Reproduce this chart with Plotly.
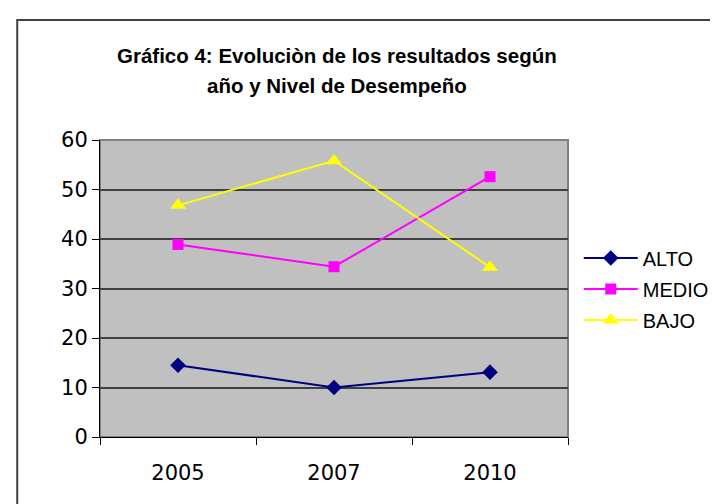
import plotly.graph_objects as go

years = ["2005", "2007", "2010"]
alto = [14.5, 10.0, 13.1]
medio = [38.9, 34.4, 52.6]
bajo = [46.8, 55.8, 34.3]
y_ticks = [0, 10, 20, 30, 40, 50, 60]
title_line1 = "Gráfico 4: Evoluciòn de los resultados según"
title_line2 = "año y Nivel de Desempeño"

W, H = 718, 504
L, R, T, B = 92, 151, 132, 75

fig = go.Figure()
fig.add_trace(go.Scatter(x=years, y=alto, name="ALTO", mode="lines+markers", legendgroup="a",
                         line=dict(color="#000080", width=2),
                         marker=dict(symbol="diamond", size=12, color="#000080")))
fig.add_trace(go.Scatter(x=years, y=medio, name="MEDIO", mode="lines+markers", legendgroup="m",
                         line=dict(color="#FF00FF", width=2),
                         marker=dict(symbol="square", size=11, color="#FF00FF")))
fig.add_trace(go.Scatter(x=years, y=bajo, name="BAJO", mode="lines+markers", legendgroup="b",
                         line=dict(color="#FFFF00", width=2),
                         marker=dict(symbol="triangle-up", size=14, color="#FFFF00")))

pw = W - L - R
ph = H - T - B
tfont = dict(family="Liberation Sans, Arial", size=20.5, color="#000000")
fig.add_annotation(text=f"<b>{title_line1}</b>", xref="paper", yref="paper",
                   x=(333 - L) / pw, y=(H - B - 47) / ph, showarrow=False,
                   xanchor="center", yanchor="middle", font=tfont)
fig.add_annotation(text=f"<b>{title_line2}</b>", xref="paper", yref="paper",
                   x=(333 - L) / pw, y=(H - B - 77) / ph, showarrow=False,
                   xanchor="center", yanchor="middle", font=tfont)

# outer chart border (left/top visible, rest cropped)
fig.add_shape(type="rect", xref="paper", yref="paper",
              x0=(8 - L) / pw, x1=(740 - L) / pw,
              y0=(H - B - 530) / ph, y1=(H - B - 12) / ph,
              line=dict(color="#404040", width=2), fillcolor="rgba(0,0,0,0)", layer="below")

fig.update_layout(
    width=W, height=H,
    margin=dict(l=L, r=R, t=T, b=B),
    paper_bgcolor="#FFFFFF",
    plot_bgcolor="#C0C0C0",
    font=dict(family="DejaVu Sans", size=21, color="#000000"),
    showlegend=True,
    legend=dict(x=1.023, y=(H - B - 281) / ph, xanchor="left", yanchor="middle",
                font=dict(family="Liberation Sans, Arial", size=20, color="#000000"),
                bgcolor="rgba(0,0,0,0)", tracegroupgap=2, itemwidth=54),
)
fig.update_xaxes(type="category", categoryorder="array", categoryarray=years,
                 range=[-0.5, 2.5],
                 showgrid=False, showline=True, linecolor="#000000", linewidth=1,
                 ticks="outside", tickson="boundaries", ticklen=7, tickcolor="#000000",
                 ticklabelstandoff=17, mirror=False, zeroline=False,
                 tickfont=dict(family="DejaVu Sans", size=21))
fig.update_yaxes(range=[0, 60], tickvals=y_ticks, showgrid=True, gridcolor="#404040",
                 gridwidth=1.5, showline=True, linecolor="#000000", linewidth=1,
                 ticks="outside", ticklen=7, tickcolor="#000000", zeroline=False,
                 ticklabelstandoff=0,
                 tickfont=dict(family="DejaVu Sans", size=21))
# right/top plot border in gray
fig.add_shape(type="rect", xref="paper", yref="paper", x0=0, x1=1, y0=0, y1=1,
              line=dict(color="#808080", width=2), layer="below")

fig.write_html("out.html")
